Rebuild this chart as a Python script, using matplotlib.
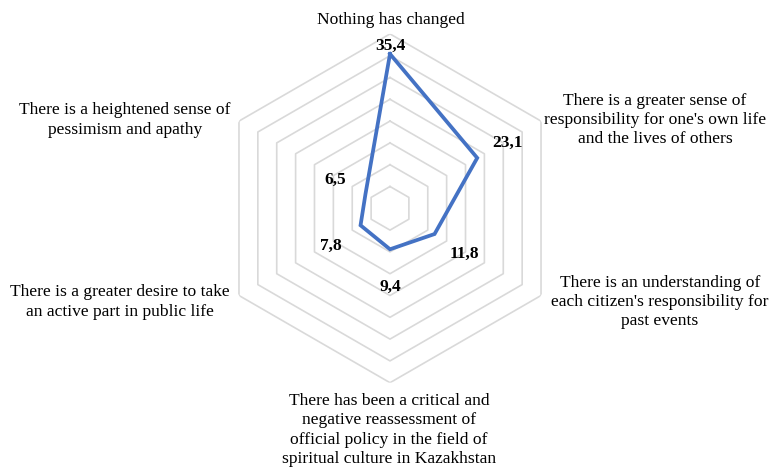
import numpy as np
import matplotlib
matplotlib.use('Agg')
import matplotlib.pyplot as plt

plt.rcParams['font.family'] = ['Liberation Serif', 'DejaVu Serif']

# данные
categories = [
    'Nothing has changed',
    "There is a greater sense of\nresponsibility for one's own life\nand the lives of others",
    "There is an understanding of\neach citizen's responsibility for\npast events",
    'There has been a critical and\nnegative reassessment of\nofficial policy in the field of\nspiritual culture in Kazakhstan',
    'There is a greater desire to take\nan active part in public life',
    'There is a heightened sense of\npessimism and apathy',
]
values = [35.4, 23.1, 11.8, 9.4, 7.8, 6.5]
value_labels = ['35,4', '23,1', '11,8', '9,4', '7,8', '6,5']
rings = [5, 10, 15, 20, 25, 30, 35, 40]

# положение подписей категорий (пиксели, x / y сверху)
cat_pos = [(391, 20), (655, 120), (660, 302), (389, 430), (120, 302), (125, 120)]

W, H = 769, 469
fig = plt.figure(figsize=(W / 100, H / 100), dpi=100)
cx, cy, R = 390, 208.3, 174.4
ax = fig.add_axes([(cx - R) / W, (H - cy - R) / H, 2 * R / W, 2 * R / H], projection='polar')
ax.set_theta_offset(np.pi / 2)
ax.set_theta_direction(-1)
ax.set_ylim(0, 40)
ax.grid(False)
ax.spines['polar'].set_visible(False)
ax.set_xticks([])
ax.set_yticks([])
ax.patch.set_alpha(0)

n = len(values)
ang = np.linspace(0, 2 * np.pi, n, endpoint=False)
ang_c = np.append(ang, ang[0])

for r in rings:
    ax.plot(ang_c, [r] * (n + 1), color='#d9d9d9', lw=1.2, zorder=1)

ax.plot(ang_c, values + values[:1], color='#4472C4', lw=2.7, zorder=3,
        solid_joinstyle='miter')

for i, (a, v, lab) in enumerate(zip(ang, values, value_labels)):
    d = 8 if i == 0 else 25
    dx, dy = d * np.sin(a), d * np.cos(a) - 2
    ax.annotate(lab, (a, v), xytext=(dx, dy), textcoords='offset points',
                ha='center', va='center', fontsize=12.5, fontweight='bold', zorder=4)

for txt, (px, py) in zip(categories, cat_pos):
    fig.text(px / W, 1 - py / H, txt, ha='center', va='center', fontsize=12.6,
             linespacing=1.28, multialignment='center')

fig.savefig('out.png', dpi=100)
